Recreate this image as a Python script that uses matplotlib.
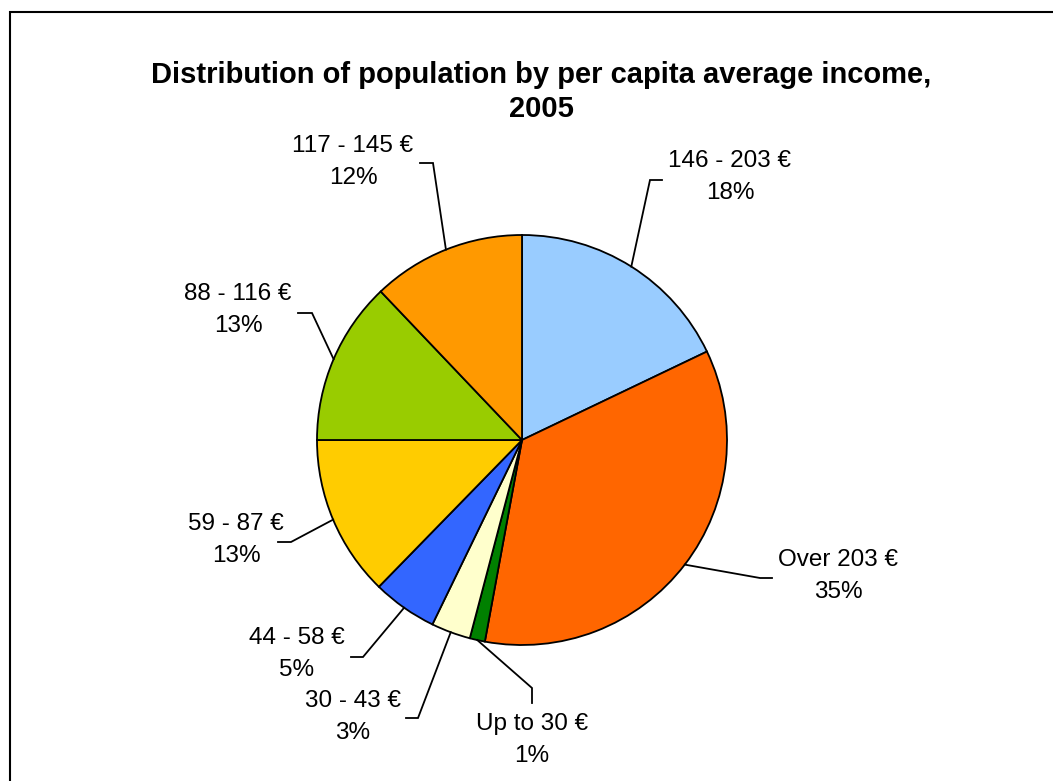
import numpy as np
import matplotlib
matplotlib.use("Agg")
import matplotlib.pyplot as plt
from matplotlib.patches import Rectangle

plt.rcParams['font.family'] = ['Liberation Sans', 'DejaVu Sans']

# data (clockwise from 12 o'clock)
labels = ['146 - 203 €', 'Over 203 €', 'Up to 30 €', '30 - 43 €',
          '44 - 58 €', '59 - 87 €', '88 - 116 €', '117 - 145 €']
shares = [17.9, 35.0, 1.2, 3.1, 5.1, 12.7, 12.9, 12.1]
colors = ['#99CCFF', '#FF6600', '#008000', '#FFFFCC',
          '#3366FF', '#FFCC00', '#99CC00', '#FF9900']

W, H = 1053, 781
cx, cy, R = 522, 440, 205  # pie centre / radius in pixels


def to_data(px, py):
    return (px - cx) / R, (cy - py) / R


# label layout in pixels: bend point, end of short tail, text centre
bends = [(650, 180), (760, 578), (532, 688), (418, 718),
         (363, 657), (291, 542), (312, 313), (433, 163)]
tails = [(662, 180), (772, 578), (532, 703), (406, 718),
         (351, 657), (278, 542), (298, 313), (420, 163)]
text_pos = [(730, 177), (838, 576), (532, 740), (353, 717),
            (297, 654), (236, 540), (238, 310), (353, 162)]

fig = plt.figure(figsize=(W / 100, H / 100), dpi=100)
ax = fig.add_axes([0, 0, 1, 1])

wedges, _ = ax.pie(shares, colors=colors, startangle=90, counterclock=False,
                   radius=1, wedgeprops=dict(edgecolor='black', linewidth=1.3))

for i, w in enumerate(wedges):
    mid = np.deg2rad((w.theta1 + w.theta2) / 2)
    ex, ey = np.cos(mid), np.sin(mid)
    bx, by = to_data(*bends[i])
    tx, ty = to_data(*tails[i])
    ax.plot([ex, bx, tx], [ey, by, ty], color='black', lw=1.3,
            solid_joinstyle='miter')
    lx, ly = to_data(*text_pos[i])
    ax.text(lx, ly, f"{labels[i]}\n{round(shares[i]):.0f}%", ha='center',
            va='center', fontsize=17.5, linespacing=1.55)

# pie() resets the limits, so set them afterwards
ax.set_xlim(-cx / R, (W - cx) / R)
ax.set_ylim(-(H - cy) / R, cy / R)
ax.set_aspect('equal')
ax.axis('off')

fig.text(541 / W, 1 - 92 / H,
         "Distribution of population by per capita average income,\n2005",
         ha='center', va='center', fontsize=21, fontweight='bold',
         linespacing=1.25)

# chart frame (open on right and bottom, as in the original crop)
fig.patches.append(Rectangle((10 / W, -0.1), 1.2, 1 - 12 / H + 0.1,
                             transform=fig.transFigure, fill=False,
                             edgecolor='black', linewidth=1.5))

fig.savefig('out.png', dpi=100)
